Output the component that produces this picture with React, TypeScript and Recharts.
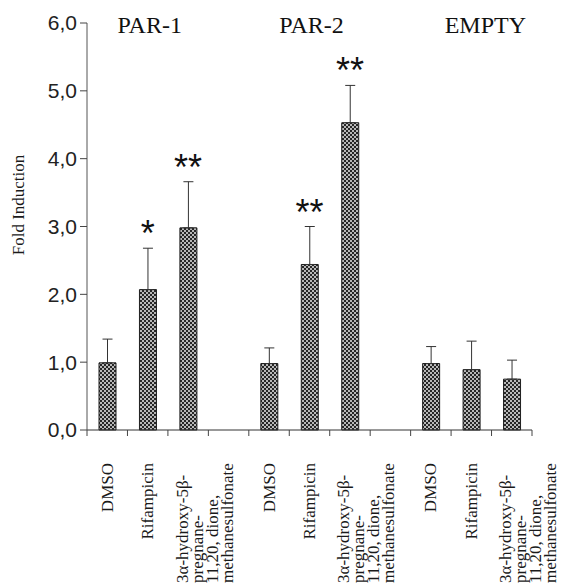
import React from 'react';
import { ComposedChart, Bar, Scatter, XAxis, YAxis, ErrorBar } from 'recharts';

const categoryGroups = ['PAR-1', 'PAR-1', 'PAR-1', 'PAR-1', 'PAR-2', 'PAR-2', 'PAR-2', 'PAR-2', 'EMPTY', 'EMPTY', 'EMPTY'];
const categoryLabels = [
  'DMSO', 'Rifampicin', '3α-hydroxy-5β-\npregnane-\n11,20, dione,\nmethanesulfonate', '',
  'DMSO', 'Rifampicin', '3α-hydroxy-5β-\npregnane-\n11,20, dione,\nmethanesulfonate', '',
  'DMSO', 'Rifampicin', '3α-hydroxy-5β-\npregnane-\n11,20, dione,\nmethanesulfonate',
];
const foldInduction = [0.99, 2.07, 2.98, null, 0.98, 2.44, 4.53, null, 0.98, 0.89, 0.75];
const errorTop = [1.34, 2.68, 3.66, null, 1.21, 3.0, 5.08, null, 1.23, 1.31, 1.03];
const significance = ['', '*', '**', '', '', '**', '**', '', '', '', ''];
const groupTitles = ['', 'PAR-1', '', '', '', 'PAR-2', '', '', '', 'EMPTY', ''];
const yTicks = [0, 1, 2, 3, 4, 5, 6];
const yMax = 6;

const data = categoryLabels.map((label, i) => {
  const v = foldInduction[i];
  const e = errorTop[i];
  return {
    id: `${categoryGroups[i]}-${i}`,
    label,
    value: v,
    err: v != null && e != null ? [0, +(e - v).toFixed(3)] : undefined,
    starY: significance[i] ? e : undefined,
    sig: significance[i],
    titleY: groupTitles[i] ? yMax : undefined,
    title: groupTitles[i],
  };
});

const W = 565;
const H = 586;
const M = { top: 23, right: 33, bottom: 0, left: 0 };
const Y_AXIS_W = 87;
const X_AXIS_H = 156;
const BAND = (W - M.left - M.right - Y_AXIS_W) / categoryLabels.length;

const serif = '"Liberation Serif", "Times New Roman", serif';
const sans = '"Liberation Sans", Arial, sans-serif';

const XTick = (props: any) => {
  const { x, y, index } = props;
  const label = categoryLabels[index] || '';
  const lines = label.split('\n');
  return (
    <g>
      {index === 0 && (
        <line x1={x - BAND / 2} x2={x - BAND / 2} y1={y} y2={y + 6} stroke="#444" strokeWidth={1} />
      )}
      <line x1={x + BAND / 2} x2={x + BAND / 2} y1={y} y2={y + 6} stroke="#444" strokeWidth={1} />
      {lines.length === 1 && label && (
        <text
          x={x}
          y={y + 33}
          transform={`rotate(-90 ${x} ${y + 33})`}
          textAnchor="end"
          dominantBaseline="central"
          fontFamily={serif}
          fontSize={17}
          fill="#1a1a1a"
        >
          {label}
        </text>
      )}
      {lines.length > 1 &&
        lines.map((ln, k) => {
          const lx = x - 6 + 15 * k;
          const ly = y + 153;
          return (
            <text
              key={k}
              x={lx}
              y={ly}
              transform={`rotate(-90 ${lx} ${ly})`}
              textAnchor="start"
              dominantBaseline="central"
              fontFamily={serif}
              fontSize={17}
              fill="#1a1a1a"
            >
              {ln}
            </text>
          );
        })}
    </g>
  );
};

const StarShape = (props: any) => {
  const { cx, cy, payload } = props;
  if (!payload || !payload.sig || !isFinite(cy)) return <g />;
  return (
    <text x={cx} y={cy - 2} textAnchor="middle" fontFamily={sans} fontSize={36} fill="#111">
      {payload.sig}
    </text>
  );
};

const TitleShape = (props: any) => {
  const { cx, cy, payload } = props;
  if (!payload || !payload.title || !isFinite(cy)) return <g />;
  const dx = payload.title === 'EMPTY' ? 14 : 2;
  return (
    <text x={cx + dx} y={cy + 10} textAnchor="middle" fontFamily={serif} fontSize={24} fill="#111">
      {payload.title}
    </text>
  );
};

const YLabel = () => (
  <text
    x={18}
    y={205}
    transform="rotate(-90 18 205)"
    textAnchor="middle"
    dominantBaseline="central"
    fontFamily={serif}
    fontSize={17}
    fill="#1a1a1a"
  >
    Fold Induction
  </text>
);

export default function App() {
  return (
    <div style={{ position: 'absolute', left: 0, top: 0, background: '#fff' }}>
      <ComposedChart width={W} height={H} data={data} margin={M}>
        <defs>
          <pattern id="hatch" patternUnits="userSpaceOnUse" width={4} height={4}>
            <rect x={0} y={0} width={4} height={4} fill="#b8b8b8" />
            <rect x={0} y={0} width={2} height={2} fill="#262626" />
            <rect x={2} y={2} width={2} height={2} fill="#262626" />
          </pattern>
        </defs>
        <XAxis
          dataKey="id"
          interval={0}
          height={X_AXIS_H}
          tickLine={false}
          tickSize={0}
          tickMargin={0}
          axisLine={{ stroke: '#333', strokeWidth: 1 }}
          tick={<XTick />}
        />
        <YAxis
          width={Y_AXIS_W}
          domain={[0, yMax]}
          ticks={yTicks}
          tickSize={7}
          tickMargin={3}
          tickFormatter={(v: number) => v.toFixed(1).replace('.', ',')}
          tick={{ fontFamily: sans, fontSize: 21, fill: '#222' }}
          axisLine={{ stroke: '#555', strokeWidth: 1 }}
          tickLine={{ stroke: '#444', strokeWidth: 1 }}
          label={{ content: () => <YLabel /> }}
        />
        <Bar dataKey="value" barSize={17} fill="url(#hatch)" stroke="#1e1e1e" strokeWidth={1} isAnimationActive={false}>
          <ErrorBar dataKey="err" width={5} stroke="#333" strokeWidth={1} direction="y" />
        </Bar>
        <Scatter dataKey="starY" shape={<StarShape />} isAnimationActive={false} />
        <Scatter dataKey="titleY" shape={<TitleShape />} isAnimationActive={false} />
      </ComposedChart>
    </div>
  );
}
